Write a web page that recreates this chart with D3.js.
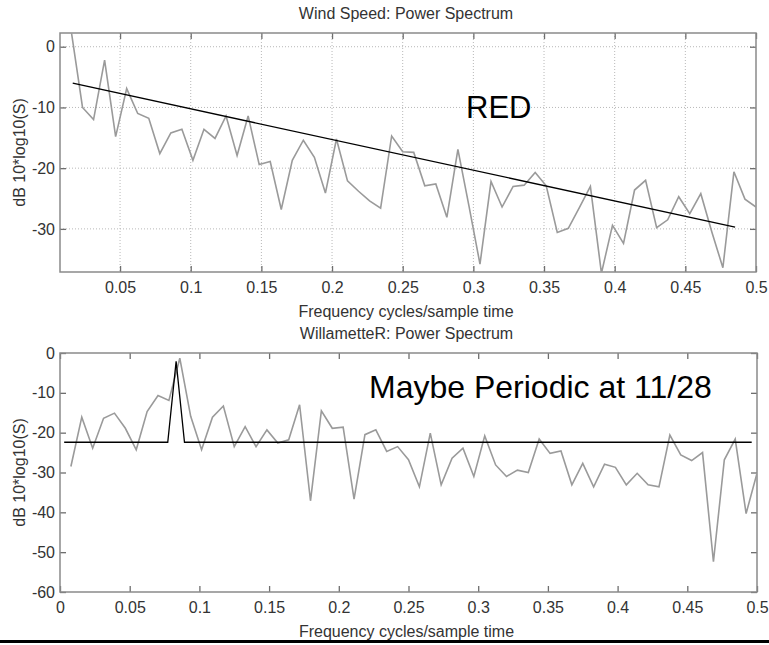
<!DOCTYPE html>
<html>
<head>
<meta charset="utf-8">
<script src="https://cdn.jsdelivr.net/npm/d3@7"></script>
<style>
  body { margin: 0; background: #fff; }
  svg { display: block; }
  text { font-family: "Liberation Sans", Arial, Helvetica, sans-serif; }
</style>
</head>
<body>
<div class="chart-wrapper"></div>
<script>
// frequency bins k/128, k = 1..64 (both spectra)
let binFreq = d3.range(1, 65).map(k => k / 128);

// wind speed spectrum (dB)
let windDb = [6, 2.3, -10, -12, -2.2, -14.8, -6.9, -11, -11.8, -17.6,
  -14.2, -13.6, -18.7, -13.6, -15.1, -11.4, -17.9, -11.4, -19.4, -18.9,
  -26.8, -18.7, -15.4, -18.2, -24.1, -15.2, -22.1, -23.8, -25.4, -26.6,
  -14.7, -17.3, -17.4, -22.9, -22.6, -28.1, -16.9, -26.2, -35.8, -22.2,
  -26.4, -23.0, -22.8, -20.7, -22.9, -30.6, -29.9, -26.5, -23.0, -37.3,
  -29.4, -32.4, -23.6, -22.0, -29.8, -28.5, -24.7, -27.5, -24.2, -30.5,
  -36.4, -20.6, -25.1, -26.4];
// red noise fit line
let redFreq = [0.0165, 0.4852];
let redDb = [-6.0, -29.7];

// Willamette river spectrum (dB)
let riverDb = [-28.5, -16.1, -23.9, -16.4, -15.1, -18.9, -24.3, -14.7, -10.7, -11.9,
  -1.3, -15.9, -24.3, -16.1, -13.3, -23.5, -18.5, -23.5, -19.3, -22.6,
  -21.8, -13.0, -37.1, -14.5, -18.9, -18.6, -36.7, -20.5, -19.3, -24.7,
  -23.5, -26.8, -33.6, -20.1, -33.1, -26.4, -23.9, -31.0, -20.8, -28.1,
  -31.0, -29.4, -30.0, -21.6, -25.2, -24.6, -33.1, -27.7, -33.6, -27.9,
  -28.7, -33.1, -30.2, -33.1, -33.6, -20.6, -25.6, -27.0, -25.0, -52.4,
  -26.8, -21.6, -40.3, -30.2];
// periodic fit line
let periodFreq = [0.003, 0.0773, 0.0833, 0.0893, 0.4962];
let periodDb = [-22.4, -22.4, -2.1, -22.4, -22.4];

let topXTicks = [0.05, 0.1, 0.15, 0.2, 0.25, 0.3, 0.35, 0.4, 0.45, 0.5];
let topYTicks = [0, -10, -20, -30];
let botXTicks = [0, 0.05, 0.1, 0.15, 0.2, 0.25, 0.3, 0.35, 0.4, 0.45, 0.5];
let botYTicks = [0, -10, -20, -30, -40, -50, -60];

let w = 769;
let h = 645;

let viz = d3.select(".chart-wrapper")
          .append("svg")
          .attr("width", w)
          .attr("height", h)
          .style("background-color", "#ffffff")
;

function drawPanel(opt){
  let xScale = d3.scaleLinear().domain(opt.xDomain).range([opt.left, opt.right]);
  let yScale = d3.scaleLinear().domain(opt.yDomain).range([opt.bottom, opt.top]);
  let g = viz.append("g").attr("class", "panel-" + opt.id);

  g.append("clipPath").attr("id", "clip-" + opt.id)
    .append("rect")
    .attr("x", opt.left).attr("y", opt.top)
    .attr("width", opt.right - opt.left).attr("height", opt.bottom - opt.top)
  ;

  // dotted grid
  if(opt.grid){
    g.selectAll(".vgrid").data(opt.xTicks.filter(d => xScale(d) < opt.right - 1)).enter()
      .append("line")
      .attr("x1", d => xScale(d)).attr("x2", d => xScale(d))
      .attr("y1", opt.top).attr("y2", opt.bottom)
      .attr("stroke", "#b8b8b8").attr("stroke-width", 1).attr("stroke-dasharray", "1,2")
    ;
    g.selectAll(".hgrid").data(opt.yTicks).enter()
      .append("line")
      .attr("x1", opt.left).attr("x2", opt.right)
      .attr("y1", d => yScale(d)).attr("y2", d => yScale(d))
      .attr("stroke", "#b8b8b8").attr("stroke-width", 1).attr("stroke-dasharray", "1,2")
    ;
  }

  // axes with inward ticks
  let xAxis = d3.axisBottom(xScale).tickValues(opt.xTicks).tickSize(-6).tickSizeOuter(0).tickPadding(10).tickFormat(d => String(d));
  let xAxisGroup = g.append("g").attr("transform", "translate(0," + opt.bottom + ")").call(xAxis);
  let xTop = d3.axisTop(xScale).tickValues(opt.xTicks).tickSize(-6).tickSizeOuter(0).tickFormat("");
  let xTopGroup = g.append("g").attr("transform", "translate(0," + opt.top + ")").call(xTop);
  let yAxis = d3.axisLeft(yScale).tickValues(opt.yTicks).tickSize(-6).tickSizeOuter(0).tickPadding(5).tickFormat(d => String(d));
  let yAxisGroup = g.append("g").attr("transform", "translate(" + opt.left + ",0)").call(yAxis);
  let yRight = d3.axisRight(yScale).tickValues(opt.yTicks).tickSize(-6).tickSizeOuter(0).tickFormat("");
  let yRightGroup = g.append("g").attr("transform", "translate(" + opt.right + ",0)").call(yRight);

  [xAxisGroup, xTopGroup, yAxisGroup, yRightGroup].forEach(a => {
    a.select(".domain").remove();
    a.selectAll(".tick line").attr("stroke", "#6e6e6e").attr("stroke-width", 1.3);
    a.selectAll(".tick text").attr("fill", "#333").style("font-size", "16px");
  });

  // frame
  g.append("rect")
    .attr("x", opt.left).attr("y", opt.top)
    .attr("width", opt.right - opt.left).attr("height", opt.bottom - opt.top)
    .attr("fill", "none").attr("stroke", "#8a8a8a").attr("stroke-width", 1.5)
  ;

  let line = d3.line().x(d => xScale(d[0])).y(d => yScale(d[1]));
  let plot = g.append("g").attr("clip-path", "url(#clip-" + opt.id + ")");
  plot.append("path")
    .datum(d3.zip(binFreq, opt.values))
    .attr("d", line)
    .attr("fill", "none").attr("stroke", "#9a9a9a").attr("stroke-width", 1.6)
  ;
  plot.append("path")
    .datum(d3.zip(opt.fitFreq, opt.fitDb))
    .attr("d", line)
    .attr("fill", "none").attr("stroke", "#000").attr("stroke-width", 1.3)
  ;

  // titles
  let cx = (opt.left + opt.right) / 2 - 2;
  g.append("text").attr("x", cx).attr("y", opt.titleY)
    .attr("text-anchor", "middle").attr("fill", "#333").style("font-size", "16px")
    .text(opt.title)
  ;
  g.append("text").attr("x", cx).attr("y", opt.bottom + 45)
    .attr("text-anchor", "middle").attr("fill", "#333").style("font-size", "16px")
    .text("Frequency cycles/sample time")
  ;
  g.append("text")
    .attr("transform", "translate(25," + ((opt.top + opt.bottom) / 2) + ") rotate(-90)")
    .attr("text-anchor", "middle").attr("fill", "#333").style("font-size", "16px")
    .text("dB 10*log10(S)")
  ;
  g.append("text").attr("x", opt.noteX).attr("y", opt.noteY)
    .attr("fill", "#000").style("font-size", opt.noteSize + "px")
    .text(opt.note)
  ;
}

drawPanel({
  id: "wind", left: 60, right: 756, top: 33, bottom: 272,
  xDomain: [0.0075, 0.5], yDomain: [-37.1, 2.26],
  xTicks: topXTicks, yTicks: topYTicks, grid: true,
  values: windDb, fitFreq: redFreq, fitDb: redDb,
  title: "Wind Speed: Power Spectrum", titleY: 19,
  note: "RED", noteX: 466, noteY: 118, noteSize: 31
});

drawPanel({
  id: "river", left: 60, right: 757, top: 353, bottom: 592,
  xDomain: [0, 0.5], yDomain: [-60, 0],
  xTicks: botXTicks, yTicks: botYTicks, grid: false,
  values: riverDb, fitFreq: periodFreq, fitDb: periodDb,
  title: "WillametteR: Power Spectrum", titleY: 339,
  note: "Maybe Periodic at 11/28", noteX: 369, noteY: 398, noteSize: 32
});

// slide edge line at the bottom
viz.append("rect")
  .attr("x", 0).attr("y", 640)
  .attr("width", w).attr("height", 3)
  .attr("fill", "#000")
;
</script>
</body>
</html>
